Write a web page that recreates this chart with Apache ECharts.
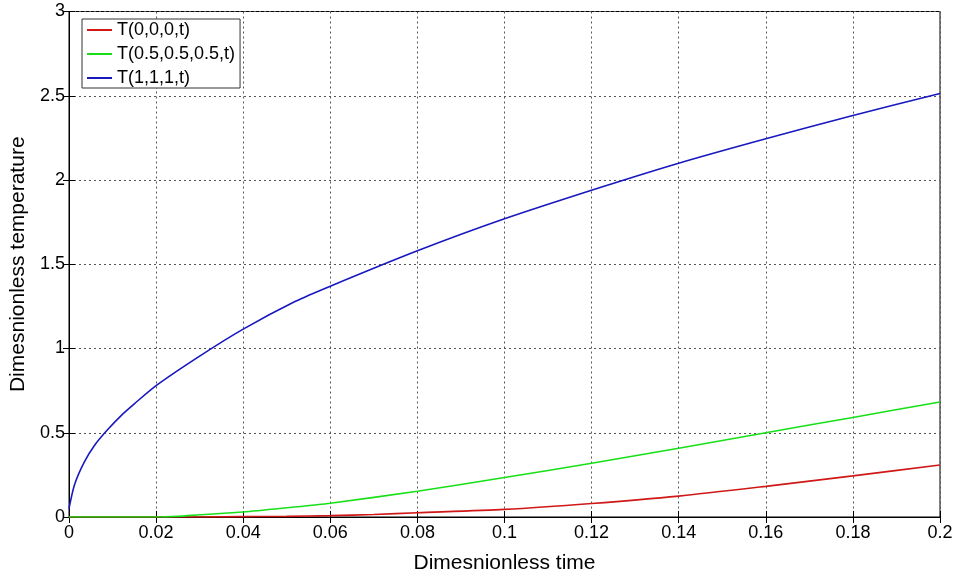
<!DOCTYPE html>
<html>
<head>
<meta charset="utf-8">
<script src="https://cdn.jsdelivr.net/npm/echarts@6/dist/echarts.min.js"></script>
<style>
  html, body { margin: 0; padding: 0; background: #fff; }
  #main { width: 956px; height: 579px; }
</style>
</head>
<body>
<div id="main"></div>
<script>
// values
var tBlue = [0, 0.00125, 0.0035, 0.006, 0.009, 0.0125, 0.015, 0.02, 0.03, 0.04, 0.052, 0.06, 0.08, 0.1, 0.1225, 0.14, 0.16, 0.18, 0.2];
var vBlue = [0.05, 0.19, 0.325, 0.43, 0.522, 0.615, 0.672, 0.78, 0.955, 1.115, 1.28, 1.37, 1.58, 1.77, 1.96, 2.10, 2.245, 2.383, 2.513];

var tGreen = [0, 0.02, 0.025, 0.03, 0.04, 0.05, 0.06, 0.08, 0.1, 0.12, 0.14, 0.16, 0.18, 0.2];
var vGreen = [0, 0, 0.004, 0.013, 0.03, 0.055, 0.082, 0.153, 0.234, 0.319, 0.408, 0.5, 0.591, 0.683];

var tRed = [0, 0.03, 0.04, 0.05, 0.06, 0.07, 0.08, 0.1, 0.12, 0.14, 0.16, 0.18, 0.2];
var vRed = [0, 0, 0.002, 0.004, 0.008, 0.015, 0.025, 0.045, 0.08, 0.124, 0.182, 0.244, 0.309];

var names = ['T(0,0,0,t)', 'T(0.5,0.5,0.5,t)', 'T(1,1,1,t)'];

function pairs(t, v) {
    var out = [];
    for (var i = 0; i < t.length; i++) {
        out.push([t[i], v[i]]);
    }
    return out;
}

var font = 'Arial, "Liberation Sans", sans-serif';

function lineSeries(name, t, v, color) {
    return {
        name: name,
        type: 'line',
        data: pairs(t, v),
        showSymbol: false,
        symbol: 'none',
        smooth: 0.25,
        lineStyle: { color: color, width: 1.6 },
        itemStyle: { color: color },
        animation: false
    };
}

var option = {
    backgroundColor: '#fff',
    textStyle: { fontFamily: font },
    grid: {
        left: 62, right: 16, top: 11.5, bottom: 48.5,
        show: true, borderColor: '#000', borderWidth: 1
    },
    legend: {
        orient: 'vertical',
        left: 82, top: 19,
        padding: [2, 5, 1, 5],
        itemGap: 6,
        itemWidth: 25,
        itemHeight: 2,
        icon: 'rect',
        backgroundColor: '#fff',
        borderColor: '#333',
        borderWidth: 1,
        textStyle: { fontSize: 18, lineHeight: 18, color: '#000', fontFamily: font },
        data: names
    },
    xAxis: [{
        type: 'value',
        min: 0, max: 0.2, interval: 0.02,
        name: 'Dimesnionless time',
        nameLocation: 'middle',
        nameGap: 36,
        nameTextStyle: { fontSize: 21, color: '#000', fontFamily: font },
        axisLine: { lineStyle: { color: '#000' } },
        axisTick: { inside: true, length: 6, lineStyle: { color: '#000' } },
        axisLabel: { fontSize: 18, color: '#000', margin: 7, fontFamily: font },
        splitLine: { show: true, lineStyle: { color: '#555', type: [2, 3], width: 1 } }
    }, {
        type: 'value',
        position: 'top',
        min: 0, max: 0.2, interval: 0.02,
        axisLine: { show: true, lineStyle: { color: '#000' } },
        axisTick: { inside: true, length: 6, lineStyle: { color: '#000' } },
        axisLabel: { show: false },
        splitLine: { show: false }
    }],
    yAxis: [{
        type: 'value',
        min: 0, max: 3, interval: 0.5,
        name: 'Dimesnionless temperature',
        nameLocation: 'middle',
        nameGap: 40,
        nameTextStyle: { fontSize: 21, color: '#000', fontFamily: font },
        axisLine: { show: true, lineStyle: { color: '#000' } },
        axisTick: { show: true, inside: true, length: 6, lineStyle: { color: '#000' } },
        axisLabel: { fontSize: 18, color: '#000', margin: 4, fontFamily: font },
        splitLine: { show: true, lineStyle: { color: '#555', type: [2, 3], width: 1 } }
    }, {
        type: 'value',
        position: 'right',
        min: 0, max: 3, interval: 0.5,
        axisLine: { show: true, lineStyle: { color: '#000' } },
        axisTick: { show: true, inside: true, length: 6, lineStyle: { color: '#000' } },
        axisLabel: { show: false },
        splitLine: { show: false }
    }],
    series: [
        lineSeries(names[0], tRed, vRed, '#d01818'),
        lineSeries(names[1], tGreen, vGreen, '#18e018'),
        lineSeries(names[2], tBlue, vBlue, '#1818c0')
    ]
};

var myChart = echarts.init(document.getElementById('main'));
myChart.setOption(option);
</script>
</body>
</html>
